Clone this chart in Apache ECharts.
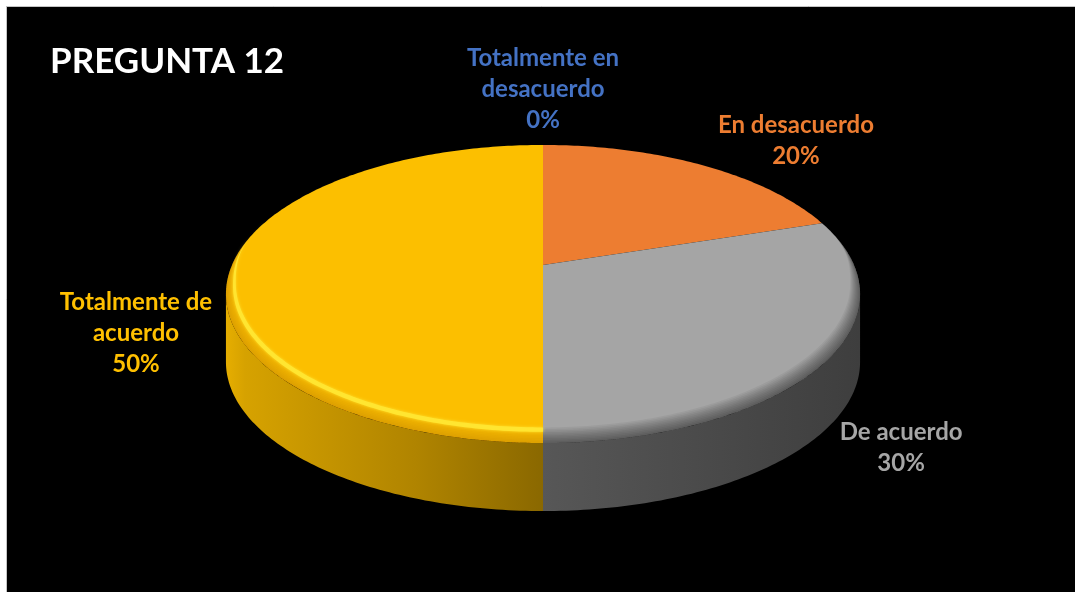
<!DOCTYPE html>
<html><head><meta charset="utf-8">
<script src="https://cdn.jsdelivr.net/npm/echarts@6/dist/echarts.min.js"></script>
<style>html,body{margin:0;padding:0;background:#fff}#c{width:1075px;height:592px}</style>
</head><body><div id="c"></div><script>
// ---- data ----
const chartTitle = 'PREGUNTA 12';
const categories = ['Totalmente en desacuerdo', 'En desacuerdo', 'De acuerdo', 'Totalmente de acuerdo'];
const labelLines = [['Totalmente en', 'desacuerdo'], ['En desacuerdo'], ['De acuerdo'], ['Totalmente de', 'acuerdo']];
const values = [0, 20, 30, 50];

// ---- styles ----
const topColors = ['#4472C4', '#ED7D31', '#A5A5A5', '#FCBF00'];
const labelColors = ['#4472C4', '#ED7D31', '#A6A6A6', '#FFC000'];
const wallColors = [
  ['#2F5597', '#22406F'],
  ['#B85A1E', '#8A4316'],
  ['#575757', '#3E3E3E'],
  ['#E2AA00', '#8C6A00']
];
const bevelShade = ['rgba(0,0,40,0.04)', 'rgba(80,20,0,0.04)', 'rgba(0,0,0,0.05)', 'rgba(150,80,0,0.03)'];
const bevelLight = [null, null, null, 'rgba(255,230,50,0.95)'];
// label offsets relative to slice rim at mid angle
const labelOffsets = [[0, -56], [95, -24], [74, 88], [-96, 68]];

// ---- geometry ----
const G = { cx: 543, cy: 265, rx: 311, a: 143.4, b: 0.1946, depth: 68 };
const TWO_PI = Math.PI * 2;
function proj(th, k) {
  k = k == null ? 1 : k;
  const u = Math.sin(th) * k, v = -Math.cos(th) * k;
  const s = 1 / (1 - G.b * v);
  return [G.cx + G.rx * u * s, G.cy + G.a * v * s];
}
function arc(t0, t1, k, dy) {
  const n = Math.max(2, Math.ceil((t1 - t0) / 0.015));
  const pts = [];
  for (let j = 0; j <= n; j++) {
    const t = t0 + (t1 - t0) * j / n;
    const p = proj(t, typeof k === 'function' ? k(t) : k);
    pts.push([p[0], p[1] + (typeof dy === 'function' ? dy(t) : (dy || 0))]);
  }
  return pts;
}
function bevelW(t) {
  const v = -Math.cos(t);
  const x = Math.max(0, Math.min(1, (v + 0.35) / 0.55));
  return x * x * (3 - 2 * x);
}
const total = values.reduce((s, v) => s + v, 0);
const thL = Math.acos(-G.b), thR = TWO_PI - thL;
const BK = 0.03, BD = 9;

function renderItem(params, api) {
  const i = params.dataIndex;
  const val = api.value(0);
  let cum = 0;
  for (let j = 0; j < i; j++) cum += values[j];
  const t0 = TWO_PI * cum / total, t1 = t0 + TWO_PI * val / total;
  const children = [];
  if (val > 0) {
    // side wall
    const wa = Math.max(t0, thL), wb = Math.min(t1, thR);
    if (wa < wb) {
      const top = arc(wa, wb, 1, 0);
      const bot = arc(wa, wb, 1, G.depth).reverse();
      const c = wallColors[i];
      children.push({
        type: 'polygon', z2: 1,
        shape: { points: top.concat(bot) },
        style: {
          fill: {
            type: 'linear', x: 0, y: 0, x2: 1, y2: 0,
            colorStops: i === 3 ? [
              { offset: 0, color: '#E6AE00' }, { offset: 0.06, color: '#D6A200' },
              { offset: 0.6, color: '#B08400' }, { offset: 1, color: '#8A6800' }
            ] : [
              { offset: 0, color: c[0] }, { offset: 1, color: c[1] }
            ]
          }
        }
      });
    }
    // top face
    const face = [[G.cx, G.cy]].concat(arc(t0, t1, 1, 0));
    children.push({ type: 'polygon', z2: 10, shape: { points: face }, style: { fill: topColors[i] } });
    // bevel shading bands (soft gradient toward rim)
    const NB = 10;
    for (let q = 1; q <= NB; q++) {
      const f = q / NB;
      const outer = arc(t0, t1, 1, 0);
      const inner = arc(t0, t1, t => 1 - BK * bevelW(t) * f, t => -BD * bevelW(t) * f).reverse();
      children.push({ type: 'polygon', z2: 11, silent: true, shape: { points: outer.concat(inner) }, style: { fill: bevelShade[i] } });
    }
    if (bevelLight[i]) {
      const ha = Math.max(t0, 1.0), hb = Math.min(t1, TWO_PI - 1.0);
      if (ha < hb) {
        const a1 = arc(ha, hb, t => 1 - BK * bevelW(t) * 0.72, t => -BD * bevelW(t) * 0.72);
        const a2 = arc(ha, hb, t => 1 - BK * bevelW(t) * 1.0, t => -BD * bevelW(t) * 1.0).reverse();
        children.push({ type: 'polygon', z2: 12, silent: true, shape: { points: a1.concat(a2) },
          style: { fill: bevelLight[i], shadowBlur: 3, shadowColor: bevelLight[i] } });
      }
    }
  }
  // label
  const mid = (t0 + t1) / 2;
  const anchor = proj(mid, 1);
  const pct = Math.round(val / total * 100) + '%';
  children.push({
    type: 'text', z2: 20,
    x: anchor[0] + labelOffsets[i][0], y: anchor[1] + labelOffsets[i][1],
    style: {
      text: labelLines[i].concat([pct]).join('\n'),
      fill: labelColors[i], fontSize: 24, fontWeight: 'bold', fontFamily: 'Lato',
      align: 'center', verticalAlign: 'middle', lineHeight: 31
    }
  });
  return { type: 'group', children: children };
}

const chart = echarts.init(document.getElementById('c'), null, { renderer: 'canvas' });
chart.setOption({
  backgroundColor: '#ffffff',
  animation: false,
  graphic: [{
    type: 'rect', z: -1, silent: true,
    shape: { x: 6.5, y: 6.5, width: 1100, height: 620 },
    style: { fill: '#000', stroke: '#C4C4C4', lineWidth: 1 }
  }],
  title: {
    text: chartTitle, left: 45, top: 39,
    textStyle: { color: '#ffffff', fontSize: 35, fontWeight: 'bold', fontFamily: 'Lato' }
  },
  series: [{
    type: 'custom',
    coordinateSystem: 'none',
    renderItem: renderItem,
    data: values.map((v, i) => ({ name: categories[i], value: v }))
  }]
});
</script></body></html>
